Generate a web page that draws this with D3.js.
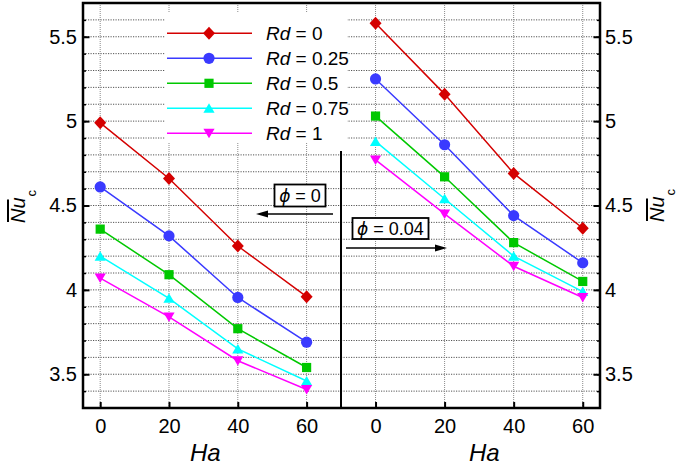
<!DOCTYPE html>
<html><head><meta charset="utf-8">
<script src="https://cdn.jsdelivr.net/npm/d3@7"></script>
<style>
body{margin:0;background:#fff}
svg text{font-family:"Liberation Sans",Arial,sans-serif;fill:#000}
</style>
</head><body>
<svg id="chart" width="685" height="470"></svg>
<script>
// ---- data ----
const ha = [0, 20, 40, 60];
const rdValues = ["0", "0.25", "0.5", "0.75", "1"];
// phi = 0 (left panel)
const phi0Rd0   = [4.99, 4.66, 4.26, 3.96];
const phi0Rd025 = [4.61, 4.32, 3.955, 3.69];
const phi0Rd05  = [4.36, 4.09, 3.77, 3.54];
const phi0Rd075 = [4.20, 3.95, 3.65, 3.46];
const phi0Rd1   = [4.07, 3.84, 3.58, 3.41];
// phi = 0.04 (right panel)
const phi004Rd0   = [5.58, 5.16, 4.69, 4.365];
const phi004Rd025 = [5.25, 4.86, 4.44, 4.16];
const phi004Rd05  = [5.03, 4.67, 4.28, 4.05];
const phi004Rd075 = [4.88, 4.54, 4.20, 3.99];
const phi004Rd1   = [4.77, 4.45, 4.14, 3.955];
// ticks
const xTicks = [0, 20, 40, 60];
const yMajor = [3.5, 4, 4.5, 5, 5.5];
const yMajorLabels = ["3.5", "4", "4.5", "5", "5.5"];
const yMinor = [3.4,3.5,3.6,3.7,3.8,3.9,4.0,4.1,4.2,4.3,4.4,4.5,4.6,4.7,4.8,4.9,5.0,5.1,5.2,5.3,5.4,5.5,5.6];

const colors = ["#d40000", "#3a3aff", "#00c800", "#00ffff", "#ff00ff"];
const shapes = ["diamond", "circle", "square", "triUp", "triDown"];

const leftSeries = [phi0Rd0, phi0Rd025, phi0Rd05, phi0Rd075, phi0Rd1];
const rightSeries = [phi004Rd0, phi004Rd025, phi004Rd05, phi004Rd075, phi004Rd1];

// ---- layout ----
const L = 83, M = 341, R = 600, T = 3, B = 408;
const svg = d3.select("#chart");
const y = d3.scaleLinear().domain([3.3, 5.7]).range([B, T]);
const xL = d3.scaleLinear().domain([-5, 70]).range([L, M]);
const xR = d3.scaleLinear().domain([-10, 65]).range([M, R]);

function markerPath(shape) {
  switch (shape) {
    case "diamond": return "M0,-6.5L6,0L0,6.5L-6,0Z";
    case "circle": return d3.arc()({innerRadius:0, outerRadius:5.6, startAngle:0, endAngle:2*Math.PI});
    case "square": return "M-4.6,-4.6H4.6V4.6H-4.6Z";
    case "triUp": return "M0,-5L5.6,4.5H-5.6Z";
    case "triDown": return "M0,5L5.6,-4.5H-5.6Z";
  }
}

// ---- grid ----
const grid = svg.append("g");
[[xL, L, M], [xR, M, R]].forEach(([xs, x0, x1]) => {
  grid.selectAll(null).data(yMinor).join("line")
    .attr("x1", x0).attr("x2", x1)
    .attr("y1", d => y(d)).attr("y2", d => y(d))
    .attr("stroke", "#555").attr("stroke-width", 1).attr("stroke-dasharray", "1.2,1.3");
  grid.selectAll(null).data(xTicks).join("line")
    .attr("x1", d => xs(d)).attr("x2", d => xs(d))
    .attr("y1", T).attr("y2", B)
    .attr("stroke", "#8a8a8a").attr("stroke-width", 1).attr("stroke-dasharray", "1,1");
});

// ---- legend background ----
svg.append("rect").attr("x", 165).attr("y", 13).attr("width", 182).attr("height", 130).attr("fill", "#fff");

// ---- series ----
function drawPanel(xs, series) {
  const g = svg.append("g");
  const line = d3.line().x((d, i) => xs(ha[i])).y(d => y(d));
  series.forEach((vals, k) => {
    g.append("path").attr("d", line(vals)).attr("fill", "none")
      .attr("stroke", colors[k]).attr("stroke-width", 1.5);
    g.selectAll(null).data(vals).join("path")
      .attr("d", markerPath(shapes[k]))
      .attr("transform", (d, i) => `translate(${xs(ha[i])},${y(d)})`)
      .attr("fill", colors[k]);
  });
}
drawPanel(xL, leftSeries);
drawPanel(xR, rightSeries);

// ---- legend ----
const lg = svg.append("g");
rdValues.forEach((v, k) => {
  const yy = 33.3 + k * 25;
  lg.append("line").attr("x1", 167).attr("x2", 252).attr("y1", yy).attr("y2", yy)
    .attr("stroke", colors[k]).attr("stroke-width", 1.5);
  lg.append("path").attr("d", markerPath(shapes[k])).attr("transform", `translate(209,${yy})`).attr("fill", colors[k]);
  const t = lg.append("text").attr("x", 266).attr("y", yy + 7).attr("font-size", 19);
  t.append("tspan").attr("font-style", "italic").text("Rd");
  t.append("tspan").text(" = " + v);
});

// ---- axes ----
function styleAxis(g) {
  g.select(".domain").remove();
  g.selectAll(".tick line").attr("stroke", "#000");
  g.selectAll(".tick text").attr("font-size", 20).attr("fill", "#000")
    .attr("font-family", '"Liberation Sans",Arial,sans-serif');
}
svg.append("g").attr("transform", `translate(${L},0)`)
  .call(d3.axisLeft(y).tickValues(yMinor).tickSizeInner(-3).tickSizeOuter(0).tickFormat(""))
  .call(styleAxis).selectAll(".tick line").attr("stroke-width", 1.5);
svg.append("g").attr("transform", `translate(${L},0)`)
  .call(d3.axisLeft(y).tickValues(yMajor).tickSizeInner(-6.5).tickSizeOuter(0).tickPadding(6)
    .tickFormat((d, i) => yMajorLabels[i]))
  .call(styleAxis).selectAll(".tick line").attr("stroke-width", 2);
svg.append("g").attr("transform", `translate(${R},0)`)
  .call(d3.axisRight(y).tickValues(yMinor).tickSizeInner(-3).tickSizeOuter(0).tickFormat(""))
  .call(styleAxis).selectAll(".tick line").attr("stroke-width", 1.5);
svg.append("g").attr("transform", `translate(${R},0)`)
  .call(d3.axisRight(y).tickValues(yMajor).tickSizeInner(-6.5).tickSizeOuter(0).tickPadding(5)
    .tickFormat((d, i) => yMajorLabels[i]))
  .call(styleAxis).selectAll(".tick line").attr("stroke-width", 2);
[xL, xR].forEach(xs => {
  svg.append("g").attr("transform", `translate(0,${B})`)
    .call(d3.axisBottom(xs).tickValues(xTicks).tickSizeInner(-6).tickSizeOuter(0).tickPadding(11).tickFormat(d3.format("d")))
    .call(styleAxis).selectAll(".tick line").attr("stroke-width", 2);
});

// ---- frame ----
svg.append("rect").attr("x", L).attr("y", T).attr("width", R - L).attr("height", B - T)
  .attr("fill", "none").attr("stroke", "#000").attr("stroke-width", 2.5);
svg.append("line").attr("x1", M).attr("x2", M).attr("y1", 151).attr("y2", B)
  .attr("stroke", "#000").attr("stroke-width", 2);

// ---- annotations ----
function annot(bx, by, bw, bh, label, ax1, ax2, ay) {
  svg.append("rect").attr("x", bx).attr("y", by).attr("width", bw).attr("height", bh)
    .attr("fill", "#fff").attr("stroke", "#000").attr("stroke-width", 1.8);
  const t = svg.append("text").attr("x", bx + bw / 2).attr("y", by + bh / 2 + 6.5)
    .attr("text-anchor", "middle").attr("font-size", 18);
  t.append("tspan").attr("font-style", "italic").attr("font-family", '"DejaVu Sans",sans-serif').attr("font-size", 17).text("ϕ");
  t.append("tspan").text(" = " + label);
  const dir = Math.sign(ax2 - ax1);
  svg.append("line").attr("x1", ax1).attr("x2", ax2 - dir * 8).attr("y1", ay).attr("y2", ay)
    .attr("stroke", "#000").attr("stroke-width", 1.5);
  svg.append("path")
    .attr("d", `M${ax2},${ay}L${ax2 - dir * 12},${ay - 3.5}L${ax2 - dir * 12},${ay + 3.5}Z`)
    .attr("fill", "#000");
}
annot(274.5, 184.5, 51, 22, "0", 333, 256, 214);
annot(352.5, 218, 76, 21, "0.04", 346, 447, 248);

// ---- axis titles ----
[[190, 461], [469, 461]].forEach(([x0, y0]) => {
  svg.append("text").attr("x", x0).attr("y", y0).attr("font-size", 24).attr("font-style", "italic").text("Ha");
});
function yTitle(cx, cy) {
  const g = svg.append("g").attr("transform", `translate(${cx},${cy}) rotate(-90)`);
  const t = g.append("text").attr("x", 0).attr("y", 0).attr("font-size", 20);
  const nu = t.append("tspan").attr("font-style", "italic").text("Nu");
  t.append("tspan").attr("font-size", 13).attr("dx", 1).attr("dy", 11).text("c");
  const len = nu.node().getComputedTextLength();
  g.append("line").attr("x1", 1).attr("x2", len - 2).attr("y1", -17).attr("y2", -17)
    .attr("stroke", "#000").attr("stroke-width", 2);
}
yTitle(25, 223);
yTitle(664, 222);
</script>
</body></html>
